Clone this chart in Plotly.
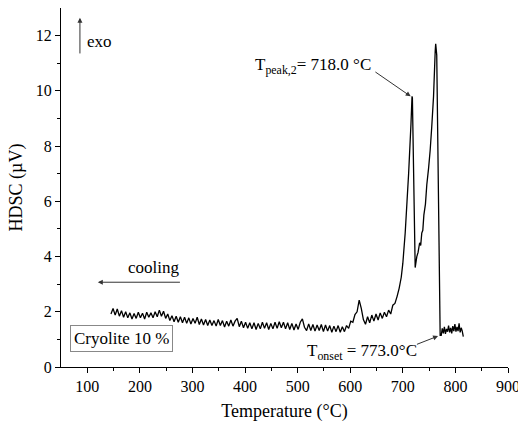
import plotly.graph_objects as go

# Flat / noisy cooling baseline region (°C, µV)
temp_base = [145,149,153,157,161,165,169,173,177,181,185,189,193,197,201,205,209,213,217,221,
             225,229,233,237,241,245,249,253,257,261,265,269,273,277,281,285,289,293,297,301,
             305,309,313,317,321,325,329,333,337,341,345,349,353,357,361,365,369,373,377,381,
             385,389,393,397,401,405,409,413,417,421,425,429,433,437,441,445,449,453,457,461,
             465,469,473,477,481,485,489,493,497,501,505,509,513,517,521,525,529,533,537,541,
             545,549,553,557,561,565,569,573,577,581,585,589,593,597,601,605,609,613,617,621,
             625,629,633,637,641,645,649,653,657,661,665,669,673,677,681,685]
hdsc_base = [1.92,2.12,1.88,2.10,1.84,2.04,1.80,2.00,1.78,1.96,1.74,1.94,1.76,1.98,1.78,1.95,1.74,1.98,1.80,1.96,
             1.78,2.00,1.82,2.06,1.84,2.02,1.76,1.92,1.68,1.86,1.64,1.84,1.62,1.82,1.60,1.80,1.58,1.78,1.56,1.76,
             1.58,1.80,1.54,1.74,1.52,1.72,1.50,1.70,1.50,1.68,1.48,1.72,1.50,1.68,1.45,1.66,1.48,1.70,1.48,1.66,
             1.76,1.46,1.66,1.42,1.62,1.40,1.60,1.38,1.60,1.36,1.58,1.38,1.62,1.40,1.60,1.36,1.58,1.38,1.62,1.40,
             1.64,1.42,1.62,1.38,1.60,1.36,1.58,1.34,1.56,1.36,1.62,1.74,1.44,1.32,1.56,1.32,1.54,1.30,1.52,1.32,
             1.54,1.28,1.52,1.30,1.50,1.26,1.48,1.28,1.50,1.26,1.46,1.28,1.50,1.40,1.66,1.62,1.90,2.00,2.42,2.12,
             1.72,1.55,1.82,1.60,1.88,1.66,1.92,1.70,1.96,1.76,1.98,1.82,2.06,1.92,2.24,2.30]

# Crystallisation peaks region
temp_peaks = [689,693,697,700,704.5,708,711,713,715.5,717.5,718.2,723.5,726.6,729,732,734,736,738,740,743,
              745.6,749,752,755,758.4,761.6,762.5,764.5,771]
hdsc_peaks = [2.55,2.85,3.25,3.75,4.85,6.00,7.00,7.80,8.80,9.80,9.75,3.60,4.00,4.15,4.50,4.40,4.85,4.95,5.50,5.90,
              6.60,7.20,7.85,8.70,9.80,11.45,11.70,11.30,1.15]

# High-temperature start of the cooling run
temp_high = [773,775,777,779,781,783,785,787,789,791,793,795,797,799,801,803,805,807,809,811,813,815]
hdsc_high = [1.15,1.40,1.22,1.45,1.20,1.38,1.28,1.50,1.25,1.42,1.22,1.48,1.30,1.55,1.28,1.45,1.30,1.58,1.25,1.42,1.30,1.10]

temps = temp_base + temp_peaks + temp_high
hdsc = hdsc_base + hdsc_peaks + hdsc_high

FONT = "Liberation Serif, Times New Roman, serif"

fig = go.Figure()
fig.add_trace(go.Scatter(x=temps, y=hdsc, mode="lines",
                         line=dict(color="black", width=1.3, simplify=False), showlegend=False,
                         hoverinfo="skip"))

ann = []
# exo arrow
ann.append(dict(x=86, y=12.65, ax=86, ay=11.3, xref="x", yref="y", axref="x", ayref="y",
                text="", showarrow=True, arrowhead=2, arrowsize=1, arrowwidth=1, arrowcolor="#333"))
ann.append(dict(x=96, y=11.78, xref="x", yref="y", text="exo", showarrow=False,
                xanchor="left", font=dict(family=FONT, size=17, color="black")))
# cooling arrow
ann.append(dict(x=120, y=3.07, ax=279, ay=3.07, xref="x", yref="y", axref="x", ayref="y",
                text="", showarrow=True, arrowhead=2, arrowsize=1, arrowwidth=1, arrowcolor="#333"))
ann.append(dict(x=225, y=3.6, xref="x", yref="y", text="cooling", showarrow=False,
                font=dict(family=FONT, size=17, color="black")))
# Cryolite box
ann.append(dict(x=165, y=1.05, xref="x", yref="y", text="Cryolite 10 %", showarrow=False,
                bordercolor="#888", borderwidth=1, borderpad=3, bgcolor="white",
                font=dict(family=FONT, size=17, color="black")))
# T peak annotation
ann.append(dict(x=715, y=9.8, ax=645, ay=10.72, xref="x", yref="y", axref="x", ayref="y",
                text="", showarrow=True, arrowhead=2, arrowsize=1, arrowwidth=1, arrowcolor="#333"))
ann.append(dict(x=530, y=10.9, xref="x", yref="y",
                text="T<sub>peak,2</sub>= 718.0 °C", showarrow=False,
                font=dict(family=FONT, size=17, color="black")))
# T onset annotation
ann.append(dict(x=767, y=1.12, ax=724, ay=0.8, xref="x", yref="y", axref="x", ayref="y",
                text="", showarrow=True, arrowhead=2, arrowsize=1, arrowwidth=1, arrowcolor="#333"))
ann.append(dict(x=623, y=0.55, xref="x", yref="y",
                text="T<sub>onset</sub> = 773.0°C", showarrow=False,
                font=dict(family=FONT, size=17, color="black")))

fig.update_layout(
    width=518, height=427,
    margin=dict(l=61, r=10, t=8, b=60, autoexpand=False),
    paper_bgcolor="white", plot_bgcolor="white",
    font=dict(family=FONT, size=16, color="black"),
    annotations=ann,
    xaxis=dict(range=[50, 900], tickvals=[100,200,300,400,500,600,700,800,900],
               ticks="outside", ticklen=5, tickwidth=1, tickcolor="black",
               minor=dict(tickvals=[150,250,350,450,550,650,750,850], ticks="outside",
                          ticklen=3, tickcolor="black"),
               showline=True, linecolor="black", linewidth=1, showgrid=False, zeroline=False,
               ticklabeloverflow="allow", automargin=False,
               title=dict(text="Temperature (°C)", font=dict(family=FONT, size=18), standoff=10),
               tickfont=dict(family=FONT, size=16)),
    yaxis=dict(range=[0, 13], tickvals=[0,2,4,6,8,10,12],
               ticks="outside", ticklen=5, tickwidth=1, tickcolor="black",
               minor=dict(tickvals=[1,3,5,7,9,11], ticks="outside", ticklen=3, tickcolor="black"),
               showline=True, linecolor="black", linewidth=1, showgrid=False, zeroline=False,
               automargin=False,
               title=dict(text="HDSC (µV)", font=dict(family=FONT, size=18), standoff=8),
               tickfont=dict(family=FONT, size=16)),
)

fig.write_html("out.html")
